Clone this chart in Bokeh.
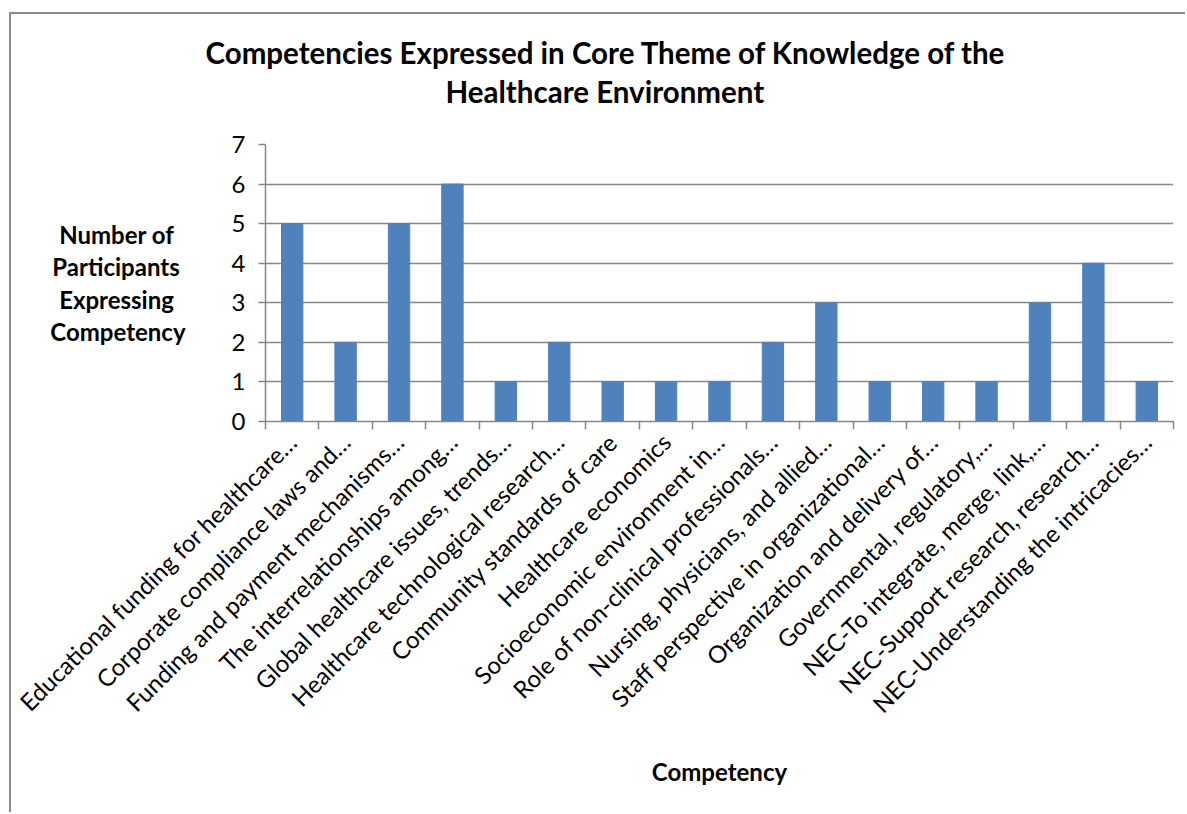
import numpy as np
from bokeh.plotting import figure
from bokeh.models import FixedTicker, Range1d, Title
from bokeh.embed import file_html
from bokeh.resources import INLINE

competencies = [
    "Educational funding for healthcare…",
    "Corporate compliance laws and…",
    "Funding and payment mechanisms…",
    "The interrelationships among…",
    "Global healthcare issues, trends…",
    "Healthcare technological research…",
    "Community standards of care",
    "Healthcare economics",
    "Socioeconomic environment in…",
    "Role of non-clinical professionals…",
    "Nursing, physicians, and allied…",
    "Staff perspective in organizational…",
    "Organization and delivery of…",
    "Governmental, regulatory,…",
    "NEC-To integrate, merge, link,…",
    "NEC-Support research, research…",
    "NEC-Understanding the intricacies…",
]
participants = [5, 2, 5, 6, 1, 2, 1, 1, 1, 2, 3, 1, 1, 1, 3, 4, 1]
y_ticks = [0, 1, 2, 3, 4, 5, 6, 7]

title_line1 = "Competencies Expressed in Core Theme of Knowledge of the"
title_line2 = "Healthcare Environment"
y_title_lines = ["Number of", "Participants", "Expressing", "Competency"]
x_title = "Competency"

FONT = "Lato"
GRAY = "#868686"
BLUE = "#4F81BD"
NB = "\u00a0"

n = len(competencies)
centers = [i + 0.5 for i in range(n)]

W, H = 1176, 800
p = figure(width=W, height=H, output_backend="svg", toolbar_location=None,
           x_range=Range1d(0, n), y_range=Range1d(0, 7),
           min_border_left=254, min_border_right=14,
           min_border_top=130, min_border_bottom=393)
p.margin = (12, 0, 0, 9)
p.styles = {"border-left": "2px solid #8c8c8c", "border-top": "2px solid #8c8c8c"}
p.outline_line_color = None
p.background_fill_color = "white"
p.border_fill_color = "white"

title_style = dict(align="left", text_font=FONT, text_font_style="bold",
                   text_font_size="29.5px", text_color="black")
p.title = Title(text=title_line1, offset=-60, standoff=1, **title_style)
# thin spacer between the title block and the plot area
p.add_layout(Title(text=" ", text_font_size="2px", standoff=31), "above")
p.add_layout(Title(text=title_line2, offset=180, standoff=2, **title_style), "above")

p.vbar(x=centers, top=participants, width=0.4, fill_color=BLUE, line_color=BLUE)

# x axis
xa = p.xaxis[0]
xa.ticker = FixedTicker(ticks=centers, minor_ticks=list(range(n + 1)))
xa.major_label_overrides = {c: lab for c, lab in zip(centers, competencies)}
xa.major_label_orientation = np.pi / 4
xa.major_tick_out = 0
xa.major_tick_in = 0
xa.minor_tick_out = 8
xa.minor_tick_in = 0
xa.minor_tick_line_color = GRAY
xa.minor_tick_line_width = 1.5
xa.axis_line_color = GRAY
xa.axis_line_width = 1.5
xa.major_label_text_font = FONT
xa.major_label_text_font_size = "24px"
xa.major_label_text_color = "black"
xa.major_label_standoff = 8
xa.axis_label = x_title
xa.axis_label_text_font = FONT
xa.axis_label_text_font_style = "bold"
xa.axis_label_text_font_size = "24px"
xa.axis_label_text_color = "black"
xa.axis_label_standoff = 26

# y axis
ya = p.yaxis[0]
ya.ticker = FixedTicker(ticks=y_ticks)
ya.major_tick_out = 7
ya.major_tick_in = 0
ya.minor_tick_out = 0
ya.minor_tick_in = 0
ya.major_tick_line_color = GRAY
ya.major_tick_line_width = 1.5
ya.axis_line_color = GRAY
ya.axis_line_width = 1.5
ya.major_label_text_font = FONT
ya.major_label_text_font_size = "24px"
ya.major_label_text_color = "black"
ya.major_label_standoff = 13
# pad lines with no-break spaces so the right-aligned block reads centred
pads = [2, 1, 2, 0]
ya.axis_label = "\n".join(t + NB * k for t, k in zip(y_title_lines, pads))
ya.axis_label_orientation = "horizontal"
ya.axis_label_text_font = FONT
ya.axis_label_text_font_style = "bold"
ya.axis_label_text_font_size = "24px"
ya.axis_label_text_line_height = 1.12
ya.axis_label_text_color = "black"
ya.axis_label_standoff = 43

p.xgrid.visible = False
p.ygrid.grid_line_color = GRAY
p.ygrid.grid_line_width = 1.5

open("out.html", "w").write(file_html(p, INLINE))
